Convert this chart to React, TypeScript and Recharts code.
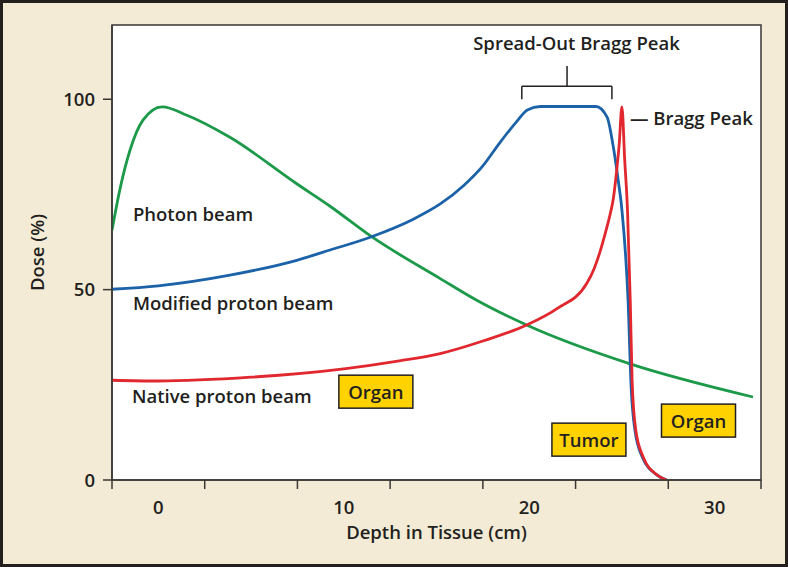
import {
  Line,
  LineChart,
  ReferenceArea,
  ReferenceDot,
  ReferenceLine,
  XAxis,
  YAxis,
} from 'recharts'

// dose (%), depth in cm
const photonBeam = [
  { depth: -2.5, dose: 65.6 },
  { depth: -2.07, dose: 76.4 },
  { depth: -1.53, dose: 86.6 },
  { depth: -0.83, dose: 94.5 },
  { depth: 0.2, dose: 98 },
  { depth: 1.54, dose: 95.8 },
  { depth: 3.86, dose: 90 },
  { depth: 7.46, dose: 77.8 },
  { depth: 9.26, dose: 71.9 },
  { depth: 11.5, dose: 63.9 },
  { depth: 15.2, dose: 52.9 },
  { depth: 17.17, dose: 47.2 },
  { depth: 19.86, dose: 40.7 },
  { depth: 25.44, dose: 30.5 },
  { depth: 32.07, dose: 21.8 },
]

const modifiedProtonBeam = [
  { depth: -2.5, dose: 50.1 },
  { depth: 0, dose: 51 },
  { depth: 3.86, dose: 53.8 },
  { depth: 7.46, dose: 57.7 },
  { depth: 9.26, dose: 60.4 },
  { depth: 11.5, dose: 63.9 },
  { depth: 13.75, dose: 68.5 },
  { depth: 15.2, dose: 72.5 },
  { depth: 16.5, dose: 77.5 },
  { depth: 17.5, dose: 82.5 },
  { depth: 18.4, dose: 88.5 },
  { depth: 19.3, dose: 94 },
  { depth: 19.9, dose: 97.2 },
  { depth: 20.6, dose: 98.1 },
  { depth: 23.6, dose: 98.1 },
  { depth: 24.2, dose: 95.3 },
  { depth: 24.5, dose: 88.5 },
  { depth: 24.8, dose: 78.7 },
  { depth: 25.0, dose: 70.9 },
  { depth: 25.33, dose: 47.2 },
  { depth: 25.5, dose: 24 },
  { depth: 25.7, dose: 13.1 },
  { depth: 26.1, dose: 6 },
  { depth: 26.9, dose: 1.3 },
  { depth: 27.4, dose: 0 },
]

const nativeProtonBeam = [
  { depth: -2.5, dose: 26.2 },
  { depth: 0, dose: 26 },
  { depth: 5, dose: 27 },
  { depth: 10, dose: 29.2 },
  { depth: 13, dose: 31.3 },
  { depth: 15.2, dose: 33.2 },
  { depth: 17.5, dose: 36.5 },
  { depth: 19.86, dose: 40.7 },
  { depth: 21.5, dose: 45 },
  { depth: 23.1, dose: 51.6 },
  { depth: 23.5, dose: 55.5 },
  { depth: 23.82, dose: 60 },
  { depth: 24.1, dose: 64.8 },
  { depth: 24.35, dose: 69.5 },
  { depth: 24.54, dose: 74 },
  { depth: 24.7, dose: 80.5 },
  { depth: 24.85, dose: 88 },
  { depth: 25.0, dose: 98 },
  { depth: 25.15, dose: 84 },
  { depth: 25.3, dose: 71 },
  { depth: 25.45, dose: 47 },
  { depth: 25.55, dose: 26 },
  { depth: 25.75, dose: 13 },
  { depth: 26.15, dose: 6 },
  { depth: 26.9, dose: 1.3 },
  { depth: 27.4, dose: 0 },
]

const depthLabels = [0, 10, 20, 30]
const depthTickMarks = [-2.5, 2.5, 7.5, 12.5, 17.5, 22.5, 27.5, 32.5]
const doseTicks = [0, 50, 100]

const INK = '#231f20'
const FRAME = '#3a3735'
const FONT = '"Open Sans", sans-serif'

function DepthTick({ x, y, payload }: any) {
  if (depthLabels.includes(payload.value)) {
    return (
      <text
        x={x}
        y={y + 26}
        textAnchor="middle"
        dominantBaseline="central"
        fill={INK}
        fontFamily={FONT}
        fontWeight={600}
        fontSize={18.5}
      >
        {payload.value}
      </text>
    )
  }
  return <line x1={x} x2={x} y1={y} y2={y + 9} stroke={FRAME} strokeWidth={1.5} />
}

function Note({ cx, cy, text, anchor = 'start' }: any) {
  return (
    <text
      x={cx}
      y={cy}
      textAnchor={anchor}
      dominantBaseline="central"
      fill={INK}
      fontFamily={FONT}
      fontWeight={600}
      fontSize={18.5}
    >
      {text}
    </text>
  )
}

function Box({ cx, cy, text }: any) {
  return (
    <g>
      <rect
        x={cx - 37}
        y={cy - 16.5}
        width={74}
        height={33}
        fill="#ffd200"
        stroke={INK}
        strokeWidth={1.5}
      />
      <text
        x={cx}
        y={cy}
        textAnchor="middle"
        dominantBaseline="central"
        fill={INK}
        fontFamily={FONT}
        fontWeight={600}
        fontSize={18.5}
      >
        {text}
      </text>
    </g>
  )
}

const lineStyle = { stroke: INK, strokeWidth: 1.5 }

export default function App() {
  return (
    <div
      style={{
        position: 'absolute',
        left: 0,
        top: 0,
        width: 788,
        height: 567,
        background: '#f3ebd5',
        boxShadow: 'inset 0 0 0 3px #231f1c',
      }}
    >
      <LineChart
        width={788}
        height={567}
        margin={{ top: 25, right: 27, bottom: 0, left: 0 }}
      >
        <XAxis
          type="number"
          dataKey="depth"
          domain={[-2.5, 32.5]}
          ticks={[...depthTickMarks, ...depthLabels].sort((a, b) => a - b)}
          allowDataOverflow
          height={87}
          tickSize={0}
          tickMargin={0}
          tickLine={false}
          tick={<DepthTick />}
          axisLine={{ stroke: FRAME, strokeWidth: 1.5 }}
          label={{
            value: 'Depth in Tissue (cm)',
            position: 'insideBottom',
            offset: 28,
            fill: INK,
            fontFamily: FONT,
            fontWeight: 600,
            fontSize: 18.5,
          }}
        />
        <YAxis
          type="number"
          domain={[0, 119.5]}
          ticks={doseTicks}
          allowDataOverflow
          width={112}
          tickSize={9}
          tickMargin={8}
          tickLine={{ stroke: FRAME, strokeWidth: 1.5 }}
          axisLine={{ stroke: FRAME, strokeWidth: 1.5 }}
          tick={{ fill: INK, fontFamily: FONT, fontWeight: 600, fontSize: 18.5 }}
          label={{
            value: 'Dose (%)',
            angle: -90,
            position: 'insideLeft',
            offset: 37,
            fill: INK,
            fontFamily: FONT,
            fontWeight: 600,
            fontSize: 18.5,
            style: { textAnchor: 'middle' },
          }}
        />
        <ReferenceArea
          x1={-2.5}
          x2={32.5}
          y1={0}
          y2={119.5}
          fill="#fff"
          fillOpacity={1}
          stroke={FRAME}
          strokeWidth={1.5}
        />

        {/* spread-out bragg peak bracket */}
        <ReferenceLine segment={[{ x: 19.6, y: 100 }, { x: 19.6, y: 103.4 }]} {...lineStyle} />
        <ReferenceLine segment={[{ x: 24.46, y: 100 }, { x: 24.46, y: 103.4 }]} {...lineStyle} />
        <ReferenceLine segment={[{ x: 19.6, y: 103.4 }, { x: 24.46, y: 103.4 }]} {...lineStyle} />
        <ReferenceLine segment={[{ x: 22.04, y: 103.4 }, { x: 22.04, y: 108.7 }]} {...lineStyle} />

        <Line
          data={photonBeam}
          dataKey="dose"
          type="monotone"
          stroke="#1c9a4a"
          strokeWidth={2.8}
          dot={false}
          isAnimationActive={false}
        />
        <Line
          data={modifiedProtonBeam}
          dataKey="dose"
          type="monotone"
          stroke="#1b62a8"
          strokeWidth={2.8}
          dot={false}
          isAnimationActive={false}
        />
        <Line
          data={nativeProtonBeam}
          dataKey="dose"
          type="monotone"
          stroke="#e0282e"
          strokeWidth={2.8}
          dot={false}
          isAnimationActive={false}
        />

        <ReferenceDot x={-1.37} y={70.1} r={0} shape={<Note text="Photon beam" />} />
        <ReferenceDot x={-1.37} y={46.7} r={0} shape={<Note text="Modified proton beam" />} />
        <ReferenceDot x={-1.42} y={22.3} r={0} shape={<Note text="Native proton beam" />} />
        <ReferenceDot
          x={22.55}
          y={115}
          r={0}
          shape={<Note text="Spread-Out Bragg Peak" anchor="middle" />}
        />
        <ReferenceDot x={25.43} y={95.3} r={0} shape={<Note text="— Bragg Peak" />} />

        <ReferenceDot x={11.73} y={23.2} r={0} shape={<Box text="Organ" />} />
        <ReferenceDot x={23.22} y={10.6} r={0} shape={<Box text="Tumor" />} />
        <ReferenceDot x={29.13} y={15.6} r={0} shape={<Box text="Organ" />} />
      </LineChart>
    </div>
  )
}
